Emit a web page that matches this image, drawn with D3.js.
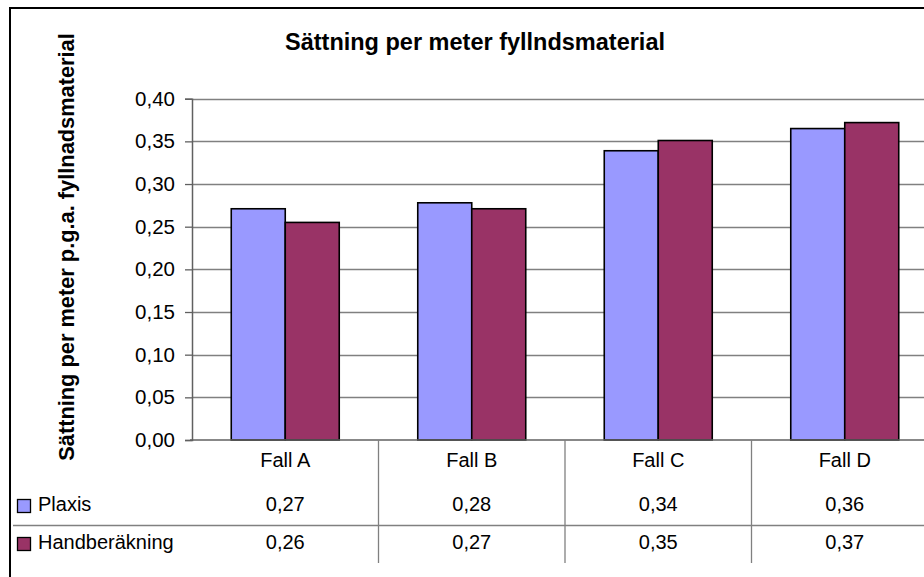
<!DOCTYPE html>
<html><head><meta charset="utf-8">
<script src="https://cdn.jsdelivr.net/npm/d3@7/dist/d3.min.js"></script>
<style>body{margin:0;background:#fff}svg{display:block}text{font-family:"Liberation Sans",Arial,sans-serif;fill:#000}</style>
</head><body>
<script>
const categories = ["Fall A", "Fall B", "Fall C", "Fall D"];
const seriesNames = ["Plaxis", "Handberäkning"];
const plaxis = [0.271, 0.278, 0.339, 0.365];
const handberakning = [0.255, 0.271, 0.351, 0.372];
const tableLabels = [["0,27", "0,28", "0,34", "0,36"], ["0,26", "0,27", "0,35", "0,37"]];
const yTicks = [0, 0.05, 0.10, 0.15, 0.20, 0.25, 0.30, 0.35, 0.40];
const colors = ["#9999FF", "#993366"];
const title = "Sättning per meter fyllndsmaterial";
const yTitle = "Sättning per meter p.g.a. fyllnadsmaterial";

(function () {
const W = 924, H = 577;
const svg = d3.select("body").append("svg").attr("width", W).attr("height", H);
const pl = 192, pr = 938, pt = 98.7, pb = 440;

svg.append("rect").attr("x", 10).attr("y", 8).attr("width", 960).attr("height", 620)
  .attr("fill", "#fff").attr("stroke", "#000").attr("stroke-width", 2);

const x = d3.scaleBand().domain(categories).range([pl, pr]).padding(0);
const xs = d3.scaleBand().domain(seriesNames).range([0, x.bandwidth()]).paddingInner(0).paddingOuter(0.727);
const y = d3.scaleLinear().domain([0, 0.4]).range([pb, pt]);
const fmt = v => d3.format(".2f")(v).replace(".", ",");

// gridlines
svg.append("g").selectAll("line").data(yTicks.filter(d => d > 0)).join("line")
  .attr("x1", pl).attr("x2", pr).attr("y1", d => Math.round(y(d)) + 0.5).attr("y2", d => Math.round(y(d)) + 0.5)
  .attr("stroke", "#808080").attr("stroke-width", 1.3);

// y axis
const yAxis = svg.append("g").attr("transform", `translate(${pl},0)`)
  .call(d3.axisLeft(y).tickValues(yTicks).tickFormat(fmt).tickSize(7).tickPadding(10));
yAxis.select(".domain").attr("stroke", "#606060").attr("stroke-width", 1.5);
yAxis.selectAll(".tick line").attr("stroke", "#606060").attr("stroke-width", 1.3);
yAxis.selectAll(".tick text").style("font-size", "20.5px").attr("fill", "#000")
  .style("font-family", "'Liberation Sans', Arial, sans-serif");

// bars
const data = [plaxis, handberakning];
data.forEach((vals, si) => {
  svg.append("g").selectAll("rect").data(vals).join("rect")
    .attr("x", (d, i) => x(categories[i]) + xs(seriesNames[si]))
    .attr("y", d => y(d)).attr("width", xs.bandwidth()).attr("height", d => y(0) - y(d))
    .attr("fill", colors[si]).attr("stroke", "#000").attr("stroke-width", 1.6);
});

// x axis line
svg.append("line").attr("x1", pl - 2).attr("x2", pr).attr("y1", pb).attr("y2", pb)
  .attr("stroke", "#606060").attr("stroke-width", 1.5);

// data table
const rowBase = [467, 511, 549];
svg.append("g").selectAll("line").data(categories).join("line")
  .attr("x1", (d, i) => pl + (i + 1) * x.step()).attr("x2", (d, i) => pl + (i + 1) * x.step())
  .attr("y1", pb).attr("y2", 563).attr("stroke", "#808080").attr("stroke-width", 1.3);
svg.append("line").attr("x1", 13).attr("x2", pr).attr("y1", 525.5).attr("y2", 525.5)
  .attr("stroke", "#808080").attr("stroke-width", 1.3);

svg.append("g").selectAll("text").data(categories).join("text")
  .attr("x", d => x(d) + x.bandwidth() / 2).attr("y", rowBase[0]).attr("text-anchor", "middle")
  .style("font-size", "20px").text(d => d);
tableLabels.forEach((row, si) => {
  svg.append("g").selectAll("text").data(row).join("text")
    .attr("x", (d, i) => x(categories[i]) + x.bandwidth() / 2).attr("y", rowBase[si + 1]).attr("text-anchor", "middle")
    .style("font-size", "20px").text(d => d);
  svg.append("rect").attr("x", 17.5).attr("y", rowBase[si + 1] - 11.5).attr("width", 13).attr("height", 13)
    .attr("fill", colors[si]).attr("stroke", "#000").attr("stroke-width", 1.3);
  svg.append("text").attr("x", 38).attr("y", rowBase[si + 1]).style("font-size", "20px").text(seriesNames[si]);
});

// titles
svg.append("text").attr("x", 475).attr("y", 50).attr("text-anchor", "middle")
  .style("font-size", "23.5px").style("font-weight", "bold").text(title);
svg.append("text").attr("transform", "translate(74,247) rotate(-90)").attr("text-anchor", "middle")
  .style("font-size", "21.8px").style("font-weight", "bold").text(yTitle);
})();
</script>
</body></html>
